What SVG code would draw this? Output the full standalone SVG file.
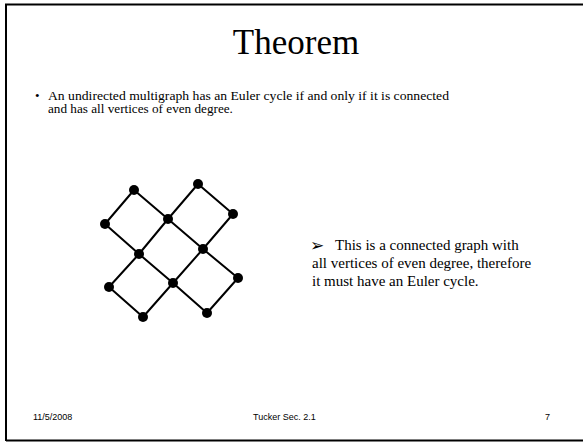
<svg xmlns="http://www.w3.org/2000/svg" width="583" height="444" viewBox="0 0 583 444">
<style>
.serif{font-family:"Liberation Serif","Times New Roman",serif;fill:#000}
.sans{font-family:"Liberation Sans",Arial,sans-serif;fill:#000;font-size:9px}
.edge{stroke:#000;stroke-width:2;fill:none}
.node{fill:#000}
</style>
<rect width="583" height="444" fill="#fff"/>
<path d="M6,441 L6,4.5 L583,4.5 M6,440.5 L583,440.5" stroke="#000" stroke-width="2" fill="none"/>
<text class="serif" x="296" y="54" font-size="35" text-anchor="middle">Theorem</text>
<text class="serif" x="35" y="100" font-size="13">•</text>
<text class="serif" x="48" y="100" font-size="13.2" textLength="401" lengthAdjust="spacingAndGlyphs">An undirected multigraph has an Euler cycle if and only if it is connected</text>
<text class="serif" x="48" y="112.5" font-size="13.2">and has all vertices of even degree.</text>
<g id="connectors">
<path class="edge" d="M134,190 L105,224 M134,190 L168,219 M198,184 L168,219 M198,184 L233,214 M105,224 L139,254 M168,219 L139,254 M168,219 L203,249 M233,214 L203,249 M139,254 L109,287 M139,254 L173,283 M203,249 L173,283 M203,249 L238,278 M109,287 L143,317 M173,283 L143,317 M173,283 L207,313 M238,278 L207,313"/>
</g>
<g id="nA"><circle class="node" cx="134" cy="190" r="5"/></g>
<g id="nB"><circle class="node" cx="198" cy="184" r="5"/></g>
<g id="nC"><circle class="node" cx="105" cy="224" r="5"/></g>
<g id="nD"><circle class="node" cx="168" cy="219" r="5"/></g>
<g id="nE"><circle class="node" cx="233" cy="214" r="5"/></g>
<g id="nF"><circle class="node" cx="139" cy="254" r="5"/></g>
<g id="nG"><circle class="node" cx="203" cy="249" r="5"/></g>
<g id="nH"><circle class="node" cx="109" cy="287" r="5"/></g>
<g id="nI"><circle class="node" cx="173" cy="283" r="5"/></g>
<g id="nJ"><circle class="node" cx="238" cy="278" r="5"/></g>
<g id="nK"><circle class="node" cx="143" cy="317" r="5"/></g>
<g id="nL"><circle class="node" cx="207" cy="313" r="5"/></g>
<text x="310" y="251" style="font-family:'DejaVu Sans',sans-serif;font-size:17px;font-weight:bold">➢</text>
<text class="serif" x="335" y="250" font-size="15">This is a connected graph with</text>
<text class="serif" x="312" y="268" font-size="15">all vertices of even degree, therefore</text>
<text class="serif" x="312" y="286" font-size="15">it must have an Euler cycle.</text>
<text class="sans" x="33" y="420">11/5/2008</text>
<text class="sans" x="253" y="420">Tucker Sec. 2.1</text>
<text class="sans" x="545" y="420">7</text>
</svg>
